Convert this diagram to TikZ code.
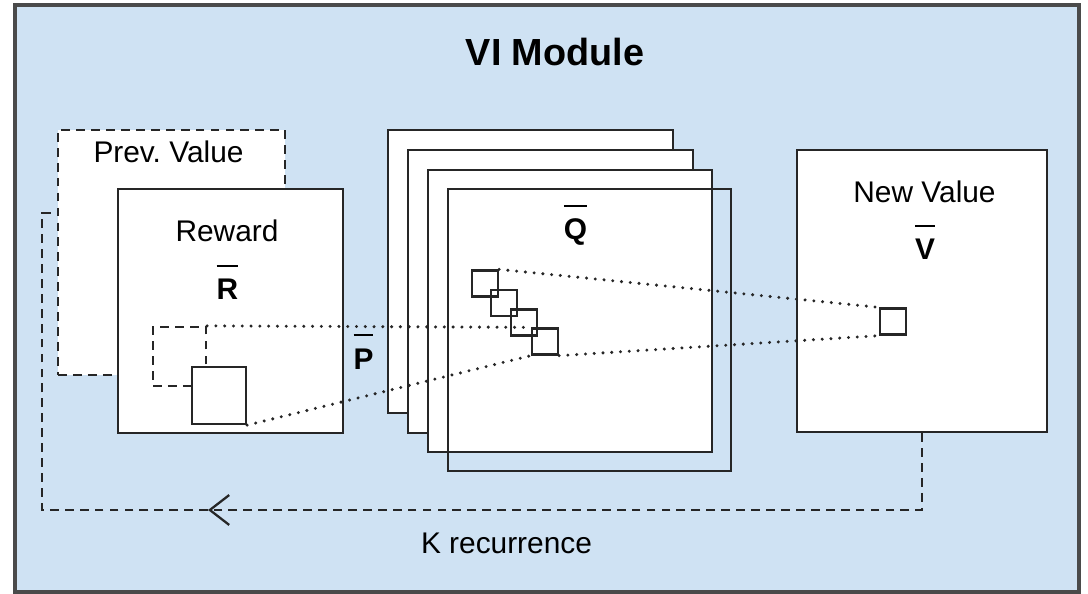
\documentclass[tikz,border=0pt]{standalone}
\usepackage{amsmath, amssymb}
\usepackage{fontspec}
\setmainfont{Liberation Sans}
\usetikzlibrary{fit, arrows.meta}
\definecolor{hblau}{HTML}{CFE2F3}
\definecolor{strich}{HTML}{262626}
\definecolor{rand}{HTML}{4A4A4A}
\newcommand{\quer}[1]{$\overline{\rule{0pt}{17pt}\textbf{#1}}$}
\frenchspacing

\begin{document}
\begin{tikzpicture}[x=0.02cm, y=-0.02cm,
	kasten/.style={draw=strich, line width=1.3pt, fill=white, inner sep=0pt},
	gestrichelt/.style={draw=strich, line width=1.3pt, dash pattern=on 5pt off 3.5pt},
	gepunktet/.style={draw=strich, line width=1.9pt, line cap=round, dash pattern=on 0pt off 5pt},
	klein/.style={draw=strich, line width=1.3pt, minimum size=0.52cm, inner sep=0pt},
	schrift/.style={font=\fontsize{17}{20}\selectfont, anchor=base}]
	% rahmen und hintergrund
	\useasboundingbox (0,0) rectangle (1088,594);
	\filldraw[fill=hblau, draw=rand, line width=1.8pt] (15,5) rectangle (1079,592);
	\node[font=\fontsize{21.5}{24}\selectfont\bfseries, anchor=base] (titel) at (555,66) {VI Module};
	% vorheriger wert
	\node[kasten, gestrichelt, fit={(58,130) (285,375)}] (prev) {};
	\node[schrift] (prevtxt) at (168.5,163) {Prev. Value};
	% reward mit den zwei kleinen feldern
	\node[kasten, fit={(118,189) (343,433)}] (reward) {};
	\node[schrift] (rewtxt) at (227,242) {Reward};
	\node[schrift] (rquer) at (227.5,300) {\quer{R}};
	\node[gestrichelt, minimum width=1.06cm, minimum height=1.18cm, inner sep=0pt] (rprev) at (179.5,356.5) {};
	\node[klein, fill=white, minimum width=1.08cm, minimum height=1.14cm] (rneu) at (219,395.5) {};
	% P zwischen den kaesten
	\node[schrift] (pquer) at (363.5,369) {\quer{P}};
	% der Q stapel
	\node[kasten, fit={(388,130) (673,413)}] (qa) {};
	\node[kasten, fit={(408,150) (693,433)}] (qb) {};
	\node[kasten, fit={(428,170) (712,452)}] (qc) {};
	\node[kasten, fill=none, fit={(448,189) (731,471)}] (qd) {};
	\node[schrift] (qquer) at (575.5,240) {\quer{Q}};
	\node[klein] (q1) at (485,283.5) {};
	\node[klein] (q2) at (504,303) {};
	\node[klein] (q3) at (524,322.5) {};
	\node[klein] (q4) at (545,341.5) {};
	% neuer wert
	\node[kasten, fit={(797,150) (1047,432)}] (neu) {};
	\node[schrift] (neutxt) at (924.5,203) {New Value};
	\node[schrift] (vquer) at (925,260) {\quer{V}};
	\node[klein] (vq) at (893,321.5) {};
	% punktierte linien
	\draw[gepunktet] (rprev.north east) -- (q4.north west);
	\draw[gepunktet] (rneu.south east) -- (q4.south west);
	\draw[gepunktet] (q1.north east) -- (vq.north west);
	\draw[gepunktet] (q4.south east) -- (vq.south west);
	% K rekurrenz zurueck
	\coordinate (kpfeil) at (208,510);
	\coordinate (kecke) at (42,213);
	\draw[gestrichelt, -{Straight Barb[length=11pt, width=17pt]}] (neu.south) |- (kpfeil);
	\draw[gestrichelt] (kpfeil) -| (kecke) -- (kecke -| prev.west);
	\node[schrift] (ktxt) at (506.5,553) {K recurrence};
\end{tikzpicture}
\end{document}
